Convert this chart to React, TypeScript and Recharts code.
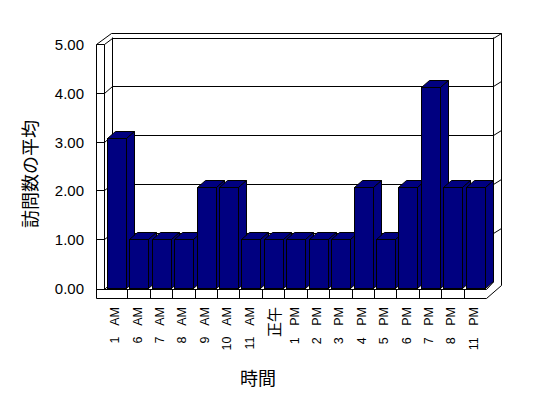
import { BarChart, Bar, XAxis, YAxis, CartesianGrid } from 'recharts';

const hours = ['1 AM', '6 AM', '7 AM', '8 AM', '9 AM', '10 AM', '11 AM', '正午', '1 PM', '2 PM', '3 PM', '4 PM', '5 PM', '6 PM', '7 PM', '8 PM', '11 PM'];
const avgVisits = [3.08, 1, 1, 1, 2.06, 2.06, 1, 1, 1, 1, 1, 2.06, 1, 2.06, 4.12, 2.06, 2.06];
const yTicks = [0, 1, 2, 3, 4, 5];

const data = hours.map((hour, i) => ({ hour, visits: avgVisits[i] }));

const W = 548;
const H = 398;
const margin = { top: 44, right: 62, bottom: 0, left: 45 };
const yAxisWidth = 60;
const xAxisHeight = 110;
// plot area edges
const L = margin.left + yAxisWidth;
const R = W - margin.right;
const T = margin.top;
const B = H - margin.bottom - xAxisHeight;
const bandW = (R - L) / hours.length;

const FONT = '"Liberation Sans", "Noto Sans CJK JP", sans-serif';
const JP = '"Noto Sans CJK JP", sans-serif';
const NAVY = '#000080';

// 3d wall offset
const WX = 8;
const WY = 6.5;

function gridLine(props: any) {
  const { x1, x2, y1, key } = props;
  const y = y1;
  const isFloor = Math.abs(y - B) < 1;
  if (isFloor) {
    return (
      <g key={key} stroke="#000" strokeWidth={1} fill="none">
        {/* outer box */}
        <path
          d={`M${L - 8.5},${B + 10.5} L${L - 8.5},${T + 0.5} L${L + 6.5},${T - 10.5} L${R + 15.5},${T - 10.5} L${R + 15.5},${B - 2.5} L${R + 0.5},${B + 10.5} Z`}
        />
        {/* left wall inner edge */}
        <path d={`M${L - 0.5},${T + 0.5} L${L - 0.5},${B + 1}`} />
        {/* back wall */}
        <path d={`M${L + WX - 0.5},${T - WY} L${L + WX - 0.5},${B - WY + 0.5}`} />
        <path d={`M${R + WX - 0.5},${T - WY} L${R + WX - 0.5},${B - WY + 0.5}`} />
        {/* floor */}
        <path d={`M${L - 8.5},${B + 1.5} L${R + 0.5},${B + 1.5} L${R + WX - 0.5},${B - WY + 0.5}`} />
        <path d={`M${L - 0.5},${B + 1.5} L${L + WX - 0.5},${B - WY + 0.5} L${R + WX - 0.5},${B - WY + 0.5}`} />
      </g>
    );
  }
  const yy = Math.round(y) + 0.5;
  const yb = Math.round(y - WY) + 0.5;
  return (
    <path
      key={key}
      stroke="#000"
      strokeWidth={1}
      fill="none"
      d={`M${x1 - 8.5},${yy} L${x1 - 0.5},${yy} L${x1 + WX - 0.5},${yb} L${x2 + WX - 0.5},${yb} L${x2 + 15.5},${yb - 5}`}
    />
  );
}

function Bar3D(props: any) {
  const { x, y, width, height } = props;
  if (height == null || height <= 0) return null;
  const dx = 8;
  const dy = 7;
  const x0 = Math.round(x) + 0.5;
  const y0 = Math.round(y) + 0.5;
  const w = Math.round(width);
  const yb = Math.round(y + height) + 0.5;
  return (
    <g stroke="#000" strokeWidth={1} fill={NAVY}>
      <path d={`M${x0},${y0} L${x0 + dx},${y0 - dy} L${x0 + w + dx},${y0 - dy} L${x0 + w},${y0} Z`} />
      <path d={`M${x0 + w},${y0} L${x0 + w + dx},${y0 - dy} L${x0 + w + dx},${yb - dy} L${x0 + w},${yb} Z`} />
      <rect x={x0} y={y0} width={w} height={yb - y0} />
    </g>
  );
}

function XTick(props: any) {
  const { x, payload, index } = props;
  const label: string = payload.value;
  const ascii = /^[\x00-\x7F]*$/.test(label);
  const edge = Math.round(x + bandW / 2) + 0.5;
  return (
    <g>
      {index < hours.length - 1 && (
        <line x1={edge} x2={edge} y1={B + 1.5} y2={B + 10.5} stroke="#000" strokeWidth={1} />
      )}
      <text
        transform={`translate(${x + (ascii ? 3 : 7)},307) rotate(-90)`}
        textAnchor="end"
        fontSize={ascii ? 12.5 : 15}
        fontFamily={ascii ? FONT : JP}
        wordSpacing={ascii ? 8 : 0}
        fill="#000"
      >
        {label}
      </text>
    </g>
  );
}

function YTick(props: any) {
  const { y, payload } = props;
  return (
    <text x={84} y={y + 6} textAnchor="end" fontSize={15} fontFamily={FONT} fill="#000">
      {Number(payload.value).toFixed(2)}
    </text>
  );
}

export default function App() {
  return (
    <div style={{ position: 'absolute', left: 0, top: 0, width: W, height: H, background: '#fff' }}>
      <BarChart width={W} height={H} data={data} margin={margin} barSize={19}>
        <CartesianGrid horizontal={gridLine} vertical={false} />
        <XAxis
          dataKey="hour"
          interval={0}
          axisLine={false}
          tickLine={false}
          tick={<XTick />}
          height={xAxisHeight}
        />
        <YAxis
          domain={[0, 5]}
          ticks={yTicks}
          width={yAxisWidth}
          axisLine={false}
          tickLine={false}
          tick={<YTick />}
        />
        <Bar dataKey="visits" shape={<Bar3D />} isAnimationActive={false} />
        <text x={29} y={174} transform="rotate(-90 29 174)" textAnchor="middle" dominantBaseline="central" fontSize={18} fontFamily={JP} fill="#000">
          訪問数の平均
        </text>
        <text x={258} y={377} textAnchor="middle" dominantBaseline="central" fontSize={18} fontFamily={JP} fill="#000">
          時間
        </text>
      </BarChart>
    </div>
  );
}
